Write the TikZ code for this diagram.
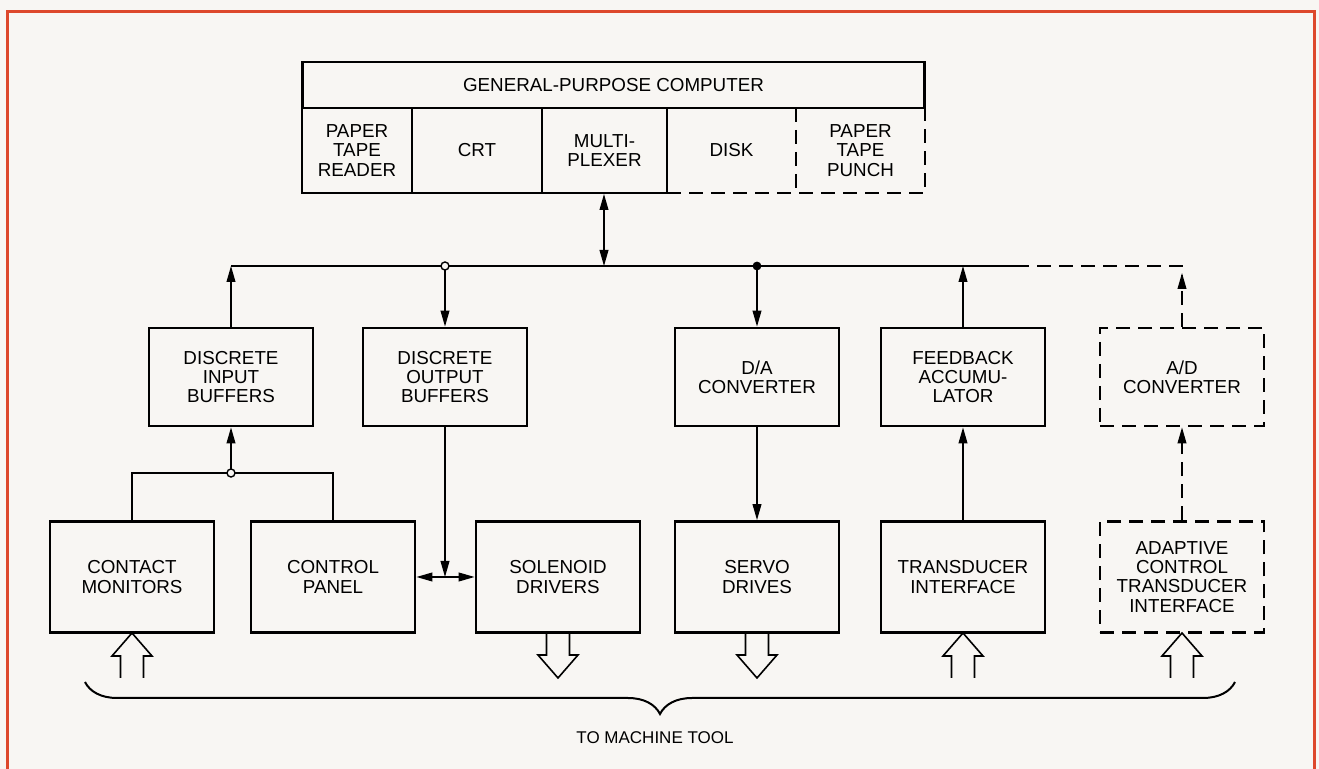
\documentclass[tikz,border=0pt]{standalone}
\usepackage{fontspec}
\setmainfont{Liberation Sans}
\usetikzlibrary{arrows.meta,decorations.pathreplacing}
\definecolor{framered}{RGB}{221,72,44}
\definecolor{paper}{RGB}{248,246,243}
\begin{document}
\begin{tikzpicture}[x=0.5pt, y=-0.5pt,
    every node/.style={font=\fontsize{9.4}{9.6}\selectfont, align=center, inner sep=0pt},
    blk/.style={draw, line width=1.4pt, minimum width=82pt, minimum height=49pt},
    low/.style={blk, minimum height=55.5pt},
    opt/.style={dash pattern=on 7pt off 4pt},
    wire/.style={line width=0.7pt},
    arr/.style={wire, -{Triangle[length=8pt,width=4.4pt]}},
    darr/.style={wire, {Triangle[length=8pt,width=4.4pt]}-{Triangle[length=8pt,width=4.4pt]}}]
    \fill[paper] (0,0) rectangle (1319,769);
    \useasboundingbox (0,0) rectangle (1319,769);
    \draw[framered, line width=1.5pt] (7,790) -- (7,12) -- (1314,12) -- (1314,790);
    % computer and its peripherals
    \node[draw, line width=1.4pt, minimum width=311pt, minimum height=23pt] (gpc) at (613.5,85) {GENERAL-PURPOSE COMPUTER};
    \foreach \i/\x/\t in {1/357/{PAPER\\TAPE\\READER}, 2/477/CRT, 3/604.5/{MULTI-\\PLEXER}, 4/731.5/DISK, 5/860.5/{PAPER\\TAPE\\PUNCH}}
        \node (c\i) at (\x,150.5) {\t};
    \draw[line width=1.4pt] (302,108) rectangle (667,193);
    \foreach \x in {412,542} \draw[line width=1.4pt] (\x,108) -- (\x,193);
    \draw[line width=1.4pt, opt] (667,193) -- (925,193) -- (925,108);
    \draw[line width=1.4pt, opt] (796,108) -- (796,193);
    % interface boxes
    \node[blk] (dib) at (231,377) {DISCRETE\\INPUT\\BUFFERS};
    \node[blk] (dob) at (445,377) {DISCRETE\\OUTPUT\\BUFFERS};
    \node[blk] (da) at (757,377) {D/A\\CONVERTER};
    \node[blk] (fa) at (963,377) {FEEDBACK\\ACCUMU-\\LATOR};
    \node[blk, opt] (ad) at (1182,377) {A/D\\CONVERTER};
    \node[low] (cm) at (132,577) {CONTACT\\MONITORS};
    \node[low] (cp) at (333,577) {CONTROL\\PANEL};
    \node[low] (sd) at (558,577) {SOLENOID\\DRIVERS};
    \node[low] (sv) at (757,577) {SERVO\\DRIVES};
    \node[low] (ti) at (963,577) {TRANSDUCER\\INTERFACE};
    \node[low, opt] (ac) at (1182,577) {ADAPTIVE\\CONTROL\\TRANSDUCER\\INTERFACE};
    % bus
    \coordinate (busL) at (231,266);
    \coordinate (busR) at (1015,266);
    \coordinate (busC) at (1182,266);
    \coordinate (mux) at (604,194);
    \coordinate (jn) at (231,473);
    \draw[wire] (busL) -- (busR);
    \draw[wire, opt] (busR) -- (busC) -- ++(0,10);
    \draw[arr, opt] (ad.north) -- ([yshift=-3.5pt]busC);
    \draw[darr] (mux) -- (mux |- busL);
    \draw[arr] (dib.north) -- (dib.north |- busL);
    \draw[arr] (dob.north |- busL) -- (dob.north);
    \draw[arr] (da.north |- busL) -- (da.north);
    \draw[arr] (fa.north) -- (fa.north |- busL);
    \draw[wire, fill=paper] (dob.north |- busL) circle (2pt);
    \fill (da.north |- busL) circle (2.2pt);
    % lower connections
    \draw[wire] (cm.north) |- (jn) -| (cp.north);
    \draw[arr] (jn) -- (dib.south);
    \draw[wire, fill=paper] (jn) circle (2pt);
    \draw[darr] (cp.east) -- (sd.west);
    \draw[arr] (dob.south) -- (dob.south |- cp.east);
    \draw[arr] (da.south) -- (sv.north);
    \draw[arr] (ti.north) -- (fa.south);
    \draw[arr, opt] (ac.north) -- (ad.south);
    % machine tool side
    \foreach \x/\t/\b/\e in {132/633/656/678, 558/678/655/633, 757/678/655/633, 963/633/656/678, 1182/633/656/678}
        \draw[line width=0.8pt] (\x-11.5,\e) -- (\x-11.5,\b) -- (\x-20,\b) -- (\x,\t) -- (\x+20,\b) -- (\x+11.5,\b) -- (\x+11.5,\e);
    \draw[line width=1pt, decorate, decoration={brace, mirror, amplitude=16pt}] (85,682) -- (1235,682);
    \node[font=\fontsize{8.5}{9}\selectfont] (mt) at (655,738) {TO MACHINE TOOL};
\end{tikzpicture}
\end{document}
